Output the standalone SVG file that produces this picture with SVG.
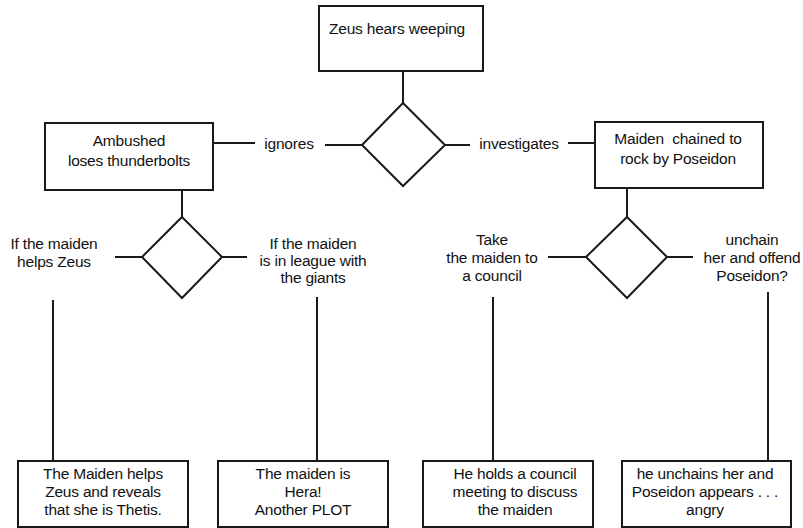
<svg xmlns="http://www.w3.org/2000/svg" width="803" height="528" viewBox="0 0 803 528">
<style>
.box{fill:#fff;stroke:#1a1a1a;stroke-width:2}
.dia{fill:#fff;stroke:#1a1a1a;stroke-width:2}
.ln{stroke:#1a1a1a;stroke-width:2;fill:none}
text{font-family:"Liberation Sans",Arial,sans-serif;font-size:15.5px;fill:#111;text-anchor:middle;letter-spacing:-0.2px}
</style>
<rect width="803" height="528" fill="#fff"/>
<g id="connectors">
<line class="ln" x1="403" y1="71" x2="403" y2="103"/>
<line class="ln" x1="213" y1="143" x2="255" y2="143"/>
<line class="ln" x1="325" y1="145" x2="362" y2="145"/>
<line class="ln" x1="445" y1="145" x2="470" y2="145"/>
<line class="ln" x1="568" y1="143" x2="595" y2="143"/>
<line class="ln" x1="182" y1="190" x2="182" y2="217"/>
<line class="ln" x1="115" y1="257" x2="142" y2="257"/>
<line class="ln" x1="222" y1="257" x2="247" y2="257"/>
<line class="ln" x1="627" y1="188" x2="627" y2="217"/>
<line class="ln" x1="548" y1="257" x2="586" y2="257"/>
<line class="ln" x1="667" y1="257" x2="693" y2="257"/>
<line class="ln" x1="53" y1="300" x2="53" y2="461"/>
<line class="ln" x1="317" y1="297" x2="317" y2="461"/>
<line class="ln" x1="493" y1="297" x2="493" y2="461"/>
<line class="ln" x1="768" y1="292" x2="768" y2="461"/>
<text x="289" y="149">ignores</text>
<text x="519" y="149">investigates</text>
<text x="54" y="249">If the maiden</text>
<text x="54" y="267">helps Zeus</text>
<text x="313" y="249">If the maiden</text>
<text x="313" y="266">is in league with</text>
<text x="313" y="283">the giants</text>
<text x="492" y="245">Take</text>
<text x="492" y="263">the maiden to</text>
<text x="492" y="281">a council</text>
<text x="752" y="245">unchain</text>
<text x="752" y="263">her and offend</text>
<text x="752" y="281">Poseidon?</text>
</g>
<g id="zeus">
<rect class="box" x="319" y="6" width="164" height="65"/>
<text x="397" y="34">Zeus hears weeping</text>
</g>
<g id="d1"><polygon class="dia" points="403,103 445,145 403,186 362,145"/></g>
<g id="ambushed">
<rect class="box" x="45" y="123" width="168" height="67"/>
<text x="129" y="146">Ambushed</text>
<text x="129" y="166">loses thunderbolts</text>
</g>
<g id="maiden">
<rect class="box" x="595" y="122" width="168" height="66"/>
<text x="678" y="144" style="white-space:pre">Maiden  chained to</text>
<text x="678" y="164">rock by Poseidon</text>
</g>
<g id="d2"><polygon class="dia" points="182,217 222,257 182,298 142,257"/></g>
<g id="d3"><polygon class="dia" points="627,217 667,257 627,298 586,257"/></g>
<g id="b1">
<rect class="box" x="18" y="461" width="170" height="66"/>
<text x="103" y="479">The Maiden helps</text>
<text x="103" y="497">Zeus and reveals</text>
<text x="103" y="515">that she is Thetis.</text>
</g>
<g id="b2">
<rect class="box" x="218" y="461" width="170" height="66"/>
<text x="303" y="479">The maiden is</text>
<text x="303" y="497">Hera!</text>
<text x="303" y="515">Another PLOT</text>
</g>
<g id="b3">
<rect class="box" x="423" y="461" width="170" height="66"/>
<text x="515" y="479">He holds a council</text>
<text x="515" y="497">meeting to discuss</text>
<text x="515" y="515">the maiden</text>
</g>
<g id="b4">
<rect class="box" x="622" y="461" width="169" height="66"/>
<text x="705" y="479">he unchains her and</text>
<text x="705" y="497">Poseidon appears . . .</text>
<text x="705" y="515">angry</text>
</g>
</svg>
